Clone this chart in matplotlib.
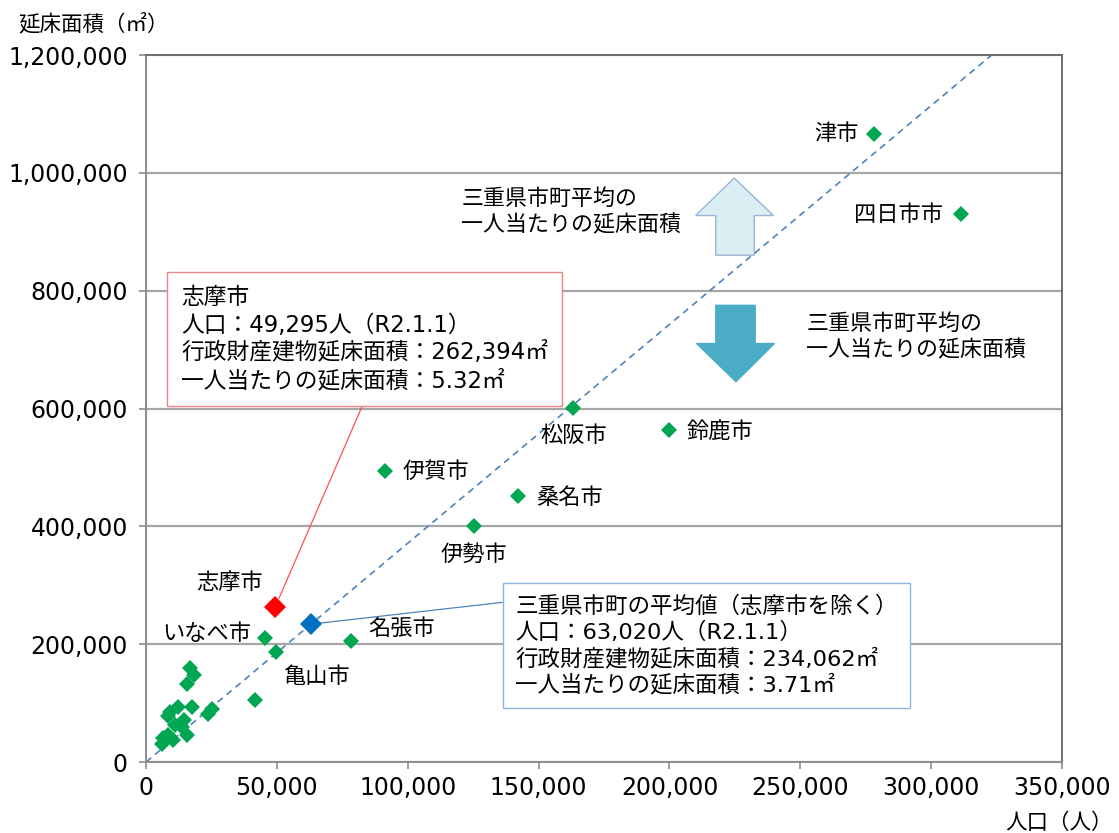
import matplotlib.pyplot as plt
from matplotlib.patches import Polygon
from matplotlib.ticker import FuncFormatter

plt.rcParams['font.family'] = ['DejaVu Sans', 'Noto Sans CJK JP']

# labelled cities (population, building floor area m2)
city_names = ['津市', '四日市市', '松阪市', '鈴鹿市', '伊賀市', '桑名市',
              '伊勢市', '名張市', 'いなべ市', '亀山市']
city_pop = [278000, 311500, 163300, 199700, 91300, 142000,
            125300, 78300, 45600, 49700]
city_area = [1066000, 931000, 601000, 564000, 493500, 451000,
             401000, 206000, 210000, 187000]

# other towns, not labelled
town_pop = [41600, 16800, 18400, 15500, 17700, 25100, 23600, 12300, 9200,
            8300, 11100, 14600, 15500, 8500, 10400, 6000, 13700, 6500]
town_area = [106000, 159600, 148200, 132400, 93400, 90000, 82000, 93400, 84200,
             77400, 63300, 70600, 46300, 46300, 37900, 31100, 60000, 41000]

shima_pop = 49295
shima_area = 262394
avg_pop = 63020
avg_area = 234062

# label offsets in pixels and alignment
label_pos = {
    '津市': (-15, 0, 'right'),
    '四日市市': (-18, -1, 'right'),
    '松阪市': (0, -28, 'center'),
    '鈴鹿市': (18, -2, 'left'),
    '伊賀市': (18, 0, 'left'),
    '桑名市': (18, -1, 'left'),
    '伊勢市': (0, -29, 'center'),
    '名張市': (17, 12, 'left'),
    'いなべ市': (-14, 5, 'right'),
    '亀山市': (8, -25, 'left'),
}

fig = plt.figure(figsize=(11.19, 8.33), dpi=100)
ax = fig.add_axes([0.1305, 0.0852, 0.8186, 0.8487])

ax.set_xlim(0, 350000)
ax.set_ylim(0, 1200000)
ax.set_xticks(range(0, 350001, 50000))
ax.set_yticks(range(0, 1200001, 200000))
fmt = FuncFormatter(lambda v, p: f'{int(v):,}')
ax.xaxis.set_major_formatter(fmt)
ax.yaxis.set_major_formatter(fmt)
ax.tick_params(labelsize=17, length=5, color='#8c8c8c', width=1.2)
ax.tick_params(axis='y', pad=8)
ax.tick_params(axis='x', pad=5)
ax.grid(axis='y', color='#a6a6a6', lw=1.6)
ax.set_axisbelow(True)
for s in ax.spines.values():
    s.set_color('#8c8c8c')
    s.set_linewidth(1.4)
ax.spines['top'].set_color('#6e6e6e')
ax.spines['right'].set_color('#6e6e6e')

# average per-person line through the origin
slope = avg_area / avg_pop
ax.plot([0, 350000], [0, 350000 * slope], ls=(0, (4, 3)), color='#4f81bd',
        lw=1.2, zorder=2)

ax.plot(town_pop, town_area, 'D', color='#00a651', ms=8.5, mew=0, zorder=3)
ax.plot(city_pop, city_area, 'D', color='#00a651', ms=8.5, mew=0, zorder=3)
ax.plot([shima_pop], [shima_area], 'D', color='#ff0000', ms=11, mew=0, zorder=4)
ax.plot([avg_pop], [avg_area], 'D', color='#0070c0', ms=11, mew=0, zorder=4)

for name, x, y in zip(city_names, city_pop, city_area):
    dx, dy, ha = label_pos[name]
    ax.annotate(name, (x, y), xytext=(dx, dy), textcoords='offset pixels',
                ha=ha, va='center', fontsize=16)
ax.annotate('志摩市', (shima_pop, shima_area), xytext=(-12, 25),
            textcoords='offset pixels', ha='right', va='center', fontsize=16)

# callout boxes
ax.annotate('志摩市\n'
            f'人口：{shima_pop:,}人（R2.1.1）\n'
            f'行政財産建物延床面積：{shima_area:,}㎡\n'
            f'一人当たりの延床面積：{shima_area / shima_pop:.2f}㎡',
            xy=(shima_pop, shima_area), xytext=(0.0382, 0.6737),
            textcoords='axes fraction', ha='left', va='top', fontsize=16.4,
            linespacing=1.27,
            bbox=dict(boxstyle='square,pad=0.6', fc='white', ec='#e8848a', lw=1),
            arrowprops=dict(arrowstyle='-', color='#ff5050', lw=0.9,
                            relpos=(0.51, 0), shrinkA=0, shrinkB=7))

ax.annotate('三重県市町の平均値（志摩市を除く）\n'
            f'人口：{avg_pop:,}人（R2.1.1）\n'
            f'行政財産建物延床面積：{avg_area:,}㎡\n'
            f'一人当たりの延床面積：{avg_area / avg_pop:.2f}㎡',
            xy=(avg_pop, avg_area), xytext=(0.4033, 0.2356),
            textcoords='axes fraction', ha='left', va='top', fontsize=16.2,
            linespacing=1.25,
            bbox=dict(boxstyle='square,pad=0.55', fc='white', ec='#8db4e2', lw=1),
            arrowprops=dict(arrowstyle='-', color='#4f81bd', lw=0.9,
                            relpos=(0, 0.946), shrinkA=0, shrinkB=7))

# up / down arrows (axes fraction)
up = [(0.642, 0.826), (0.685, 0.773), (0.664, 0.773), (0.664, 0.717),
      (0.622, 0.717), (0.622, 0.773), (0.600, 0.773)]
down = [(0.622, 0.646), (0.665, 0.646), (0.665, 0.592), (0.686, 0.592),
        (0.644, 0.538), (0.601, 0.592), (0.622, 0.592)]
ax.add_patch(Polygon(up, closed=True, transform=ax.transAxes,
                     fc='#dbeef4', ec='#9bb3d6', lw=1, zorder=1))
ax.add_patch(Polygon(down, closed=True, transform=ax.transAxes,
                     fc='#4bacc6', ec='#4bacc6', lw=1, zorder=1))

ax.text(0.344, 0.778, '三重県市町平均の\n一人当たりの延床面積', transform=ax.transAxes,
        ha='left', va='center', fontsize=15.8, linespacing=1.3)
ax.text(0.721, 0.602, '三重県市町平均の\n一人当たりの延床面積', transform=ax.transAxes,
        ha='left', va='center', fontsize=15.8, linespacing=1.3)

fig.text(18 / 1119, 1 - 23 / 833, '延床面積（㎡）', ha='left', va='center', fontsize=15.5)
fig.text(1113 / 1119, 1 - 823 / 833, '人口（人）', ha='right', va='center', fontsize=15.5)

fig.savefig('out.png', dpi=100)
